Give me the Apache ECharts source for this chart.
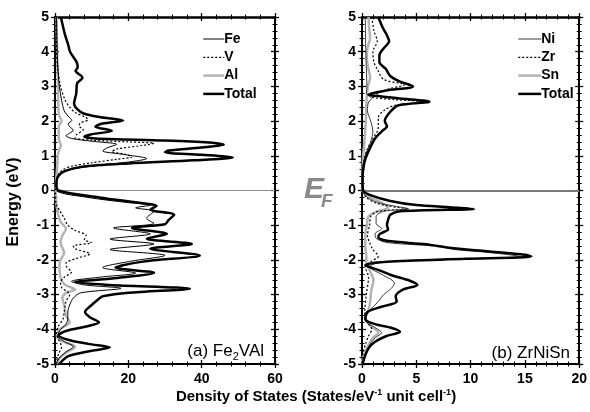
<!DOCTYPE html>
<html><head><meta charset="utf-8">
<script src="https://cdn.jsdelivr.net/npm/echarts@6/dist/echarts.min.js"></script>
<style>html,body{margin:0;padding:0;background:#fff}#c{width:590px;height:412px}</style>
</head><body><div id="c"></div>
<script>
// ---------- data: [energy (eV), DOS] ----------
// (a) Fe2VAl
const fvTotal = [[5.0,1.6],[4.5,2.7],[4.2,3.6],[4.0,4.1],[3.7,5.9],[3.55,6.2],[3.45,5.6],[3.25,7.5],[3.08,6.0],[2.8,5.8],[2.5,5.2],[2.35,6.0],[2.22,7.8],[2.12,12],[2.02,18.6],[1.93,13],[1.84,11],[1.72,15.5],[1.62,10],[1.55,8],[1.5,11],[1.44,30],[1.38,42],[1.32,46],[1.24,40],[1.15,31],[1.1,30],[1.03,40],[0.95,48.5],[0.87,38],[0.78,20],[0.68,7],[0.55,2.5],[0.4,0.8],[0.2,0.4],[0.0,0.9],[-0.2,12],[-0.38,25],[-0.44,27.7],[-0.55,26],[-0.7,32.5],[-0.85,31],[-0.97,30],[-1.08,21],[-1.25,30.5],[-1.39,25],[-1.54,37.3],[-1.68,26],[-1.87,39.5],[-2.05,24],[-2.22,16.5],[-2.37,27],[-2.52,17],[-2.64,5.5],[-2.72,15],[-2.83,36.8],[-2.95,20],[-3.05,13],[-3.12,12],[-3.3,10],[-3.5,8.2],[-3.65,9.5],[-3.8,12],[-3.92,8.5],[-4.04,3.2],[-4.17,1.0],[-4.3,3.5],[-4.42,9],[-4.52,15],[-4.62,10],[-4.78,3.5],[-5.0,1.2]];
const fvFe = [[5.0,0.4],[4.0,0.6],[3.5,0.8],[3.0,1.2],[2.6,1.8],[2.3,2.5],[2.15,3.5],[2.02,4.6],[1.92,3.6],[1.82,4.2],[1.74,5.0],[1.65,4.0],[1.58,3.0],[1.5,4.5],[1.42,10],[1.33,16.8],[1.22,14],[1.14,13],[1.05,18],[0.92,25],[0.82,20],[0.7,10],[0.6,4],[0.45,1.2],[0.2,0.3],[0.0,0.4],[-0.2,9],[-0.35,20],[-0.42,26],[-0.5,22],[-0.6,27],[-0.8,25],[-0.95,27],[-1.08,16],[-1.25,26],[-1.4,15],[-1.54,27],[-1.7,15],[-1.87,30],[-2.05,20],[-2.22,13],[-2.38,22],[-2.5,12],[-2.62,4.5],[-2.72,8],[-2.82,18],[-2.95,7],[-3.1,5],[-3.3,4],[-3.5,3.5],[-3.7,3.5],[-3.85,3.0],[-4.05,1.2],[-4.2,0.8],[-4.35,2.5],[-4.5,5],[-4.65,3],[-4.85,1.0],[-5.0,0.4]];
const fvV = [[5.0,0.3],[4.0,0.4],[3.5,0.8],[3.0,1.5],[2.6,2.8],[2.4,4.0],[2.25,5.5],[2.1,8.5],[2.04,9.0],[1.95,7],[1.86,6.5],[1.76,7.7],[1.6,5.8],[1.52,5.5],[1.45,10],[1.4,20],[1.36,27],[1.3,24],[1.2,17],[1.12,15.5],[1.05,19],[0.97,21],[0.9,17],[0.8,10],[0.7,4.5],[0.6,2.2],[0.45,0.8],[0.2,0.2],[0.0,0.1],[-0.4,0.3],[-0.6,1.4],[-0.8,2.5],[-1.0,3.5],[-1.15,5.5],[-1.3,8.5],[-1.42,8],[-1.5,10],[-1.6,5],[-1.68,5.5],[-1.83,9.5],[-1.95,6],[-2.1,3],[-2.2,3.2],[-2.35,4.5],[-2.5,2.5],[-2.65,1.5],[-2.8,1.8],[-3.0,4],[-3.2,3],[-3.5,2.5],[-3.7,2.2],[-3.9,1.0],[-4.1,0.4],[-4.3,1.0],[-4.5,1.8],[-4.7,1.0],[-5.0,0.2]];
const fvAl = [[5.0,0.4],[4.0,0.6],[3.0,0.8],[2.5,0.9],[2.2,1.0],[2.0,1.8],[1.85,1.0],[1.5,1.0],[1.3,1.6],[1.1,0.9],[0.7,0.6],[0.3,0.3],[0.0,0.2],[-0.5,0.5],[-0.9,1.5],[-1.1,3.0],[-1.3,2.0],[-1.5,1.5],[-1.8,2.5],[-2.0,1.5],[-2.2,1.2],[-2.5,1.5],[-2.7,2.5],[-2.8,4.5],[-2.85,5.5],[-2.95,3],[-3.1,2],[-3.3,2.5],[-3.6,3.0],[-3.8,4.0],[-4.0,1.2],[-4.2,0.5],[-4.35,2.0],[-4.5,5.5],[-4.65,3.5],[-4.8,1.5],[-5.0,0.4]];
// (b) ZrNiSn
const znTotal = [[5.0,1.5],[4.7,1.9],[4.5,2.25],[4.3,2.5],[4.1,2.0],[3.9,1.6],[3.7,1.6],[3.5,2.2],[3.3,2.6],[3.15,3.4],[3.0,4.7],[2.88,2.2],[2.77,0.6],[2.66,3.3],[2.56,6.2],[2.45,3.3],[2.3,2.7],[2.1,2.2],[2.0,2.1],[1.85,2.3],[1.7,1.8],[1.5,1.2],[1.2,0.7],[0.9,0.3],[0.6,0.1],[0.3,0.05],[0.0,0.1],[-0.15,0.9],[-0.3,2.6],[-0.42,5],[-0.48,8],[-0.53,10.3],[-0.6,3.5],[-0.7,2.6],[-0.85,2.4],[-1.0,2.3],[-1.12,2.4],[-1.25,1.65],[-1.35,1.5],[-1.45,2.3],[-1.55,5.9],[-1.65,8],[-1.75,11.5],[-1.85,15],[-1.9,15.6],[-1.97,9.6],[-2.05,2.3],[-2.15,0.3],[-2.3,1.6],[-2.45,2.8],[-2.6,4.4],[-2.72,5.1],[-2.85,3.8],[-3.05,3.1],[-3.2,3.2],[-3.35,1.8],[-3.5,0.5],[-3.7,0.3],[-3.85,1.2],[-3.95,2.6],[-4.07,3.5],[-4.2,2.2],[-4.36,1.2],[-4.55,0.6],[-4.75,0.3],[-5.0,0.05]];
const znNi = [[5.0,0.3],[4.0,0.35],[3.5,0.4],[3.0,0.45],[2.8,0.4],[2.65,0.9],[2.55,0.6],[2.3,0.5],[2.0,0.8],[1.7,1.0],[1.4,0.8],[1.1,0.4],[0.8,0.15],[0.4,0.05],[0.0,0.05],[-0.2,0.5],[-0.35,1.5],[-0.45,3.0],[-0.53,4.3],[-0.6,2.0],[-0.75,1.3],[-0.95,1.3],[-1.1,1.8],[-1.25,1.2],[-1.38,1.3],[-1.5,2.3],[-1.62,7.5],[-1.7,8.5],[-1.78,11.5],[-1.9,14.5],[-1.98,7],[-2.08,1.5],[-2.2,0.7],[-2.45,2.0],[-2.67,3.0],[-2.82,2.7],[-3.0,2.0],[-3.2,1.5],[-3.5,0.6],[-3.75,0.3],[-3.95,1.2],[-4.1,1.8],[-4.25,1.2],[-4.45,0.7],[-4.8,0.2],[-5.0,0.05]];
const znZr = [[5.0,0.9],[4.6,1.1],[4.3,1.4],[4.0,1.0],[3.7,1.1],[3.5,1.4],[3.2,2.0],[3.05,3.9],[2.93,2.5],[2.8,1.5],[2.7,0.9],[2.62,3.0],[2.56,5.7],[2.45,3.0],[2.3,2.0],[2.1,1.5],[1.85,1.5],[1.7,1.4],[1.5,1.0],[1.2,0.5],[0.9,0.2],[0.5,0.05],[0.0,0.05],[-0.2,0.4],[-0.35,1.2],[-0.45,2.5],[-0.53,4.2],[-0.6,1.5],[-0.75,0.8],[-1.0,0.7],[-1.3,0.5],[-1.5,0.7],[-1.7,1.0],[-1.9,1.5],[-2.05,0.8],[-2.2,0.3],[-2.5,0.6],[-3.0,0.4],[-3.5,0.25],[-3.8,0.5],[-4.0,0.9],[-4.2,0.6],[-4.4,0.35],[-4.75,0.05],[-5.0,0.0]];
const znSn = [[5.0,0.6],[4.7,0.65],[4.4,0.75],[4.1,0.5],[3.8,0.45],[3.5,0.6],[3.25,0.75],[3.0,0.55],[2.5,0.4],[2.0,0.35],[1.5,0.25],[1.0,0.1],[0.5,0.05],[0.0,0.05],[-0.2,0.8],[-0.35,1.8],[-0.5,2.4],[-0.6,1.4],[-0.75,0.6],[-1.0,0.45],[-1.3,0.3],[-1.6,0.3],[-1.9,0.4],[-2.1,0.4],[-2.3,0.7],[-2.58,1.05],[-2.9,0.85],[-3.2,0.75],[-3.45,0.6],[-3.68,0.3],[-3.9,0.8],[-4.1,1.5],[-4.25,1.0],[-4.45,0.6],[-4.84,0.05],[-5.0,0.0]];

const legendA = ['Fe','V','Al','Total'];
const legendB = ['Ni','Zr','Sn','Total'];
const panelA = {pre:'(a) Fe', sub:'2', post:'VAl'};
const panelB = '(b) ZrNiSn';
const dosMaxA = 60, dosStepA = 20;
const dosMaxB = 20, dosStepB = 5;
const eMin = -5, eMax = 5, eStep = 1;

// ---------- chart ----------
const FONT = '"Liberation Sans", Arial, Helvetica, sans-serif';
const chart = echarts.init(document.getElementById('c'));
const toXY = pairs => pairs.map(p => [p[1], p[0]]);

function tickSet(inside){
  return {
    axisTick:{show:true, inside:inside, length:4, lineStyle:{color:'#000', width:1.3}},
    minorTick:{show:true, splitNumber:5, length:2.5, lineStyle:{color:'#000', width:1}}
  };
}
function axes(dim, grid, min, max, interval){
  const posA = dim === 'x' ? 'bottom' : 'left';
  const posB = dim === 'x' ? 'top' : 'right';
  const base = {type:'value', gridIndex:grid, min, max, interval, splitLine:{show:false}, silent:true};
  const lbl = {show:true, margin: dim === 'x' ? 8 : 6, color:'#000', fontSize:14, fontWeight:'bold', fontFamily:FONT};
  const hid = {show:false};
  return [
    Object.assign({}, base, {position:posA, axisLine:{show:true, onZero:false, lineStyle:{color:'#000', width:2}}, axisLabel:lbl}, tickSet(false)),
    Object.assign({}, base, {position:posA, axisLine:{show:false, onZero:false}, axisLabel:hid}, tickSet(true)),
    Object.assign({}, base, {position:posB, axisLine:{show:true, onZero:false, lineStyle:{color:'#000', width: dim === 'x' ? 2.5 : 2}}, axisLabel:hid}, tickSet(false)),
    Object.assign({}, base, {position:posB, axisLine:{show:false, onZero:false}, axisLabel:hid}, tickSet(true))
  ];
}

const styles = {
  total:{color:'#000', width:2.5, type:'solid'},
  metal:{color:'#000', width:1, type:'solid'},
  metalB:{color:'#3a3a3a', width:1, type:'solid'},
  dot:{color:'#000', width:1.2, type:[2,2]},
  gray:{color:'#b4b4b4', width:2.5, type:'solid'}
};
function ser(name, pairs, idx, st, z, fermi){
  const s = {type:'line', name, xAxisIndex:idx, yAxisIndex:idx, data:toXY(pairs), symbol:'none', showSymbol:false,
    smooth:0.3, lineStyle:Object.assign({}, st), itemStyle:{color:st.color}, z, silent:true, animation:false};
  if (fermi) {
    s.markLine = {silent:true, symbol:['none','none'], label:{show:false}, animation:false,
      lineStyle:{color:fermi.color, width:fermi.width, type:'solid'}, data:[{yAxis:0}]};
  }
  return s;
}
const legendCommon = {orient:'vertical', top:27, itemHeight:14, itemGap:4.3, selectedMode:false,
  itemStyle:{opacity:0, borderWidth:0},
  lineStyle:{width:'inherit', color:'inherit', type:'inherit'},
  textStyle:{fontSize:14, fontWeight:'bold', fontFamily:FONT, color:'#000', padding:[0,0,0,-5]}};

const option = {
  animation:false,
  backgroundColor:'#fff',
  grid:[
    {left:55, top:17, width:220, height:347},
    {left:362, top:17, width:219, height:347}
  ],
  xAxis: axes('x',0,0,dosMaxA,dosStepA).concat(axes('x',1,0,dosMaxB,dosStepB)),
  yAxis: axes('y',0,eMin,eMax,eStep).concat(axes('y',1,eMin,eMax,eStep)),
  legend:[
    Object.assign({data:legendA, left:197, itemWidth:21}, legendCommon),
    Object.assign({data:legendB, left:512, itemWidth:23}, legendCommon)
  ],
  series:[
    ser('Al', fvAl, 0, styles.gray, 2),
    ser('V', fvV, 0, styles.dot, 3),
    ser('Fe', fvFe, 0, styles.metal, 4),
    ser('Total', fvTotal, 0, styles.total, 5, {color:'#8c8c8c', width:1.2}),
    ser('Sn', znSn, 4, styles.gray, 2),
    ser('Zr', znZr, 4, styles.dot, 3),
    ser('Ni', znNi, 4, styles.metalB, 4),
    ser('Total', znTotal, 4, styles.total, 5, {color:'#7a7a7a', width:2})
  ],
  graphic:[
    {type:'text', x:14, y:202, rotation:Math.PI/2, silent:true,
     style:{text:'Energy (eV)', align:'center', verticalAlign:'middle', fill:'#000', font:'bold 16px ' + FONT}},
    {type:'text', x:316, y:397, silent:true,
     style:{text:'{a|Density of States (States/eV}{s|-1}{a| unit cell}{s|-1}{a|)}', align:'center', verticalAlign:'middle',
       rich:{a:{fontSize:15, fontWeight:'bold', fontFamily:FONT, fill:'#000', lineHeight:18},
             s:{fontSize:9, fontWeight:'bold', fontFamily:FONT, fill:'#000', lineHeight:10, verticalAlign:'top'}}}},
    {type:'text', x:264, y:353, silent:true,
     style:{text:'{n|' + panelA.pre + '}{s|' + panelA.sub + '}{n|' + panelA.post + '}', align:'right', verticalAlign:'middle',
       rich:{n:{fontSize:17, fontFamily:FONT, fill:'#000', lineHeight:18, padding:[0,0,3,0]},
             s:{fontSize:11, fontFamily:FONT, fill:'#000', lineHeight:10, verticalAlign:'bottom'}}}},
    {type:'text', x:570, y:353, silent:true,
     style:{text:panelB, align:'right', verticalAlign:'middle', fill:'#000', font:'17px ' + FONT}},
    {type:'text', x:304, y:175, silent:true,
     style:{text:'E', fill:'#8a8a8a', font:'italic bold 30px ' + FONT}},
    {type:'text', x:321, y:192, silent:true,
     style:{text:'F', fill:'#8a8a8a', font:'italic bold 19px ' + FONT}}
  ]
};
chart.setOption(option);
</script></body></html>
